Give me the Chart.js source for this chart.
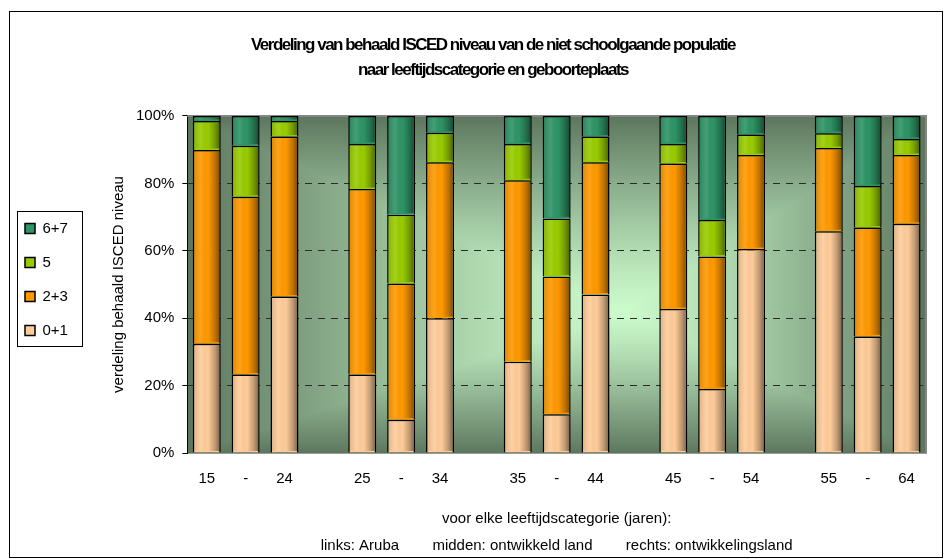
<!DOCTYPE html>
<html>
<head>
<meta charset="utf-8">
<title>ISCED niveau naar leeftijd en geboorteplaats</title>
<script src="https://cdn.jsdelivr.net/npm/chart.js@4.4.1/dist/chart.umd.min.js"></script>
<style>
  body { margin: 0; background: #fff; }
  #kader { position: absolute; left: 9px; top: 11px; width: 932px; height: 545px; border: 1px solid #000; }
  #wrap { position: absolute; left: 0; top: 0; width: 945px; height: 559px; }
</style>
</head>
<body>
<div id="kader"></div>
<div id="wrap"><canvas id="isced"></canvas></div>
<script>
// leeftijdsklassen, per klasse 3 staven: Aruba / ontwikkeld land / ontwikkelingsland
// lege labels zijn de tussenruimtes tussen de klassen
const leeftijd = ["15","-","24","", "25","-","34","", "35","-","44","", "45","-","54","", "55","-","64"];

// percentages per ISCED niveau (null = tussenruimte)
const niveau01 = [32.4, 23.3, 46.4, null, 23.3,  9.9, 40.0, null, 27.1, 11.5, 47.0, null, 42.7, 19.0, 60.5, null, 65.8, 34.6, 68.0];
const niveau23 = [57.5, 52.7, 47.5, null, 55.0, 40.4, 46.3, null, 53.8, 40.9, 39.3, null, 43.2, 39.3, 27.9, null, 24.7, 32.3, 20.4];
const niveau5  = [ 8.6, 15.2,  4.6, null, 13.4, 20.4,  8.7, null, 10.8, 17.2,  7.6, null,  5.8, 10.8,  6.1, null,  4.4, 12.3,  4.8];
const niveau67 = [ 1.5,  8.8,  1.5, null,  8.3, 29.3,  5.0, null,  8.3, 30.4,  6.1, null,  8.3, 30.9,  5.5, null,  5.1, 20.8,  6.8];

const yTicks = [0, 20, 40, 60, 80, 100];

Chart.defaults.font.family = "'Liberation Sans', Arial, sans-serif";
Chart.defaults.font.size = 15;
Chart.defaults.color = '#000';

// achtergrond van het plotvlak: licht in het midden, donker naar de randen
const achtergrond = {
  id: 'achtergrond',
  beforeDraw(chart) {
    const a = chart.chartArea, ctx = chart.ctx;
    const w = Math.round(a.right - a.left), h = Math.round(a.bottom - a.top);
    const img = ctx.createImageData(w, h);
    const cx = w * 0.59, cy = h * 0.58;
    const licht = [203, 250, 203], donker = [92, 118, 94];
    for (let y = 0; y < h; y++) {
      const ty = y < cy ? (cy - y) / cy : (y - cy) / (h - cy);
      for (let x = 0; x < w; x++) {
        const tx = x < cx ? (cx - x) / cx : (x - cx) / (w - cx);
        const t = Math.pow(Math.max(tx, ty), 1.25);
        const i = (y * w + x) * 4;
        img.data[i]     = licht[0] + (donker[0] - licht[0]) * t;
        img.data[i + 1] = licht[1] + (donker[1] - licht[1]) * t;
        img.data[i + 2] = licht[2] + (donker[2] - licht[2]) * t;
        img.data[i + 3] = 255;
      }
    }
    ctx.putImageData(img, Math.round(a.left), Math.round(a.top));
  },
  beforeDatasetsDraw(chart) {
    const a = chart.chartArea, ctx = chart.ctx;
    ctx.save();
    ctx.strokeStyle = '#858585';
    ctx.lineWidth = 2;
    ctx.beginPath();
    ctx.moveTo(a.left, a.top);
    ctx.lineTo(a.right, a.top);
    ctx.lineTo(a.right, a.bottom);
    ctx.stroke();
    ctx.restore();
  }
};

// cilinder-achtige schaduw over elke staaf + kader om de legenda
const schaduw = {
  id: 'schaduw',
  afterDatasetsDraw(chart) {
    const ctx = chart.ctx;
    ctx.save();
    chart.data.datasets.forEach((ds, i) => {
      chart.getDatasetMeta(i).data.forEach(bar => {
        const { x, y, base, width } = bar.getProps(['x', 'y', 'base', 'width'], true);
        if (isNaN(y) || isNaN(base)) return;
        const l = x - width / 2, r = x + width / 2;
        const g = ctx.createLinearGradient(l, 0, r, 0);
        g.addColorStop(0, 'rgba(0,0,0,0.15)');
        g.addColorStop(0.3, 'rgba(255,255,255,0.10)');
        g.addColorStop(0.55, 'rgba(0,0,0,0)');
        g.addColorStop(0.8, 'rgba(0,0,0,0.25)');
        g.addColorStop(1, 'rgba(0,0,0,0.55)');
        ctx.fillStyle = g;
        const top = Math.min(y, base) + 1.5, hoogte = Math.abs(base - y) - 3;
        if (hoogte > 0) ctx.fillRect(l + 1.5, top, width - 3, hoogte);
      });
    });
    ctx.restore();
  },
  afterDraw(chart) {
    const boxes = chart.legend.legendHitBoxes;
    if (!boxes || !boxes.length) return;
    const ctx = chart.ctx;
    let l = Infinity, t = Infinity, r = -Infinity, b = -Infinity;
    boxes.forEach(h => {
      l = Math.min(l, h.left); t = Math.min(t, h.top);
      r = Math.max(r, h.left + h.width); b = Math.max(b, h.top + h.height);
    });
    ctx.save();
    ctx.strokeStyle = '#000';
    ctx.lineWidth = 1;
    ctx.strokeRect(Math.round(l - 8) + 0.5, Math.round(t - 10) + 0.5, Math.round(r - l + 22), Math.round(b - t + 18));
    ctx.restore();
  }
};

// titel iets smaller zetten (krappe letterafstand) en wat naar rechts
const smalleTitel = {
  id: 'smalleTitel',
  afterInit(chart) {
    const titel = chart.titleBlock;
    const teken = titel.draw.bind(titel);
    titel.draw = function () {
      this.ctx.save();
      this.ctx.letterSpacing = '-1.5px';
      this.ctx.translate(27, 0);
      teken();
      this.ctx.restore();
    };
  }
};

const rand = '#000';
new Chart(document.getElementById('isced'), {
  type: 'bar',
  data: {
    labels: leeftijd,
    datasets: [
      { label: '0+1', data: niveau01, backgroundColor: '#ffcc99', borderColor: rand, borderWidth: 1.5 },
      { label: '2+3', data: niveau23, backgroundColor: '#ff9900', borderColor: rand, borderWidth: 1.5 },
      { label: '5',   data: niveau5,  backgroundColor: '#99cc00', borderColor: rand, borderWidth: 1.5 },
      { label: '6+7', data: niveau67, backgroundColor: '#2e9466', borderColor: rand, borderWidth: 1.5 }
    ]
  },
  options: {
    responsive: true,
    maintainAspectRatio: false,
    animation: false,
    barPercentage: 0.72,
    categoryPercentage: 1,
    layout: { padding: { left: 6, right: 19, top: 0, bottom: 0 } },
    plugins: {
      title: {
        display: true,
        text: ['Verdeling van behaald ISCED niveau van de niet schoolgaande populatie',
               'naar leeftijdscategorie en geboorteplaats'],
        font: { size: 17, weight: 'bold', lineHeight: 1.47 },
        color: '#000',
        padding: { top: 33, bottom: 33 }
      },
      legend: {
        position: 'left',
        reverse: true,
        labels: { boxWidth: 10, boxHeight: 10, padding: 19, font: { size: 15 } }
      },
      tooltip: { enabled: false }
    },
    scales: {
      x: {
        stacked: true,
        grid: { display: false, drawTicks: false },
        border: { color: '#9a9a9a', width: 1 },
        ticks: { padding: 17, autoSkip: false, maxRotation: 0 },
        title: {
          display: true,
          text: ['voor elke leeftijdscategorie (jaren):',
                 'links: Aruba        midden: ontwikkeld land        rechts: ontwikkelingsland'],
          font: { size: 15, lineHeight: 1.8 },
          padding: { top: 0, bottom: 0 }
        }
      },
      y: {
        stacked: true,
        min: 0,
        max: 100,
        afterBuildTicks: scale => { scale.ticks = yTicks.map(v => ({ value: v })); },
        ticks: { padding: 8, callback: v => v + '%' },
        grid: {
          color: c => (c.tick && (c.tick.value === 0 || c.tick.value === 100)) ? 'rgba(0,0,0,0)' : '#2a2a2a',
          tickColor: '#000',
          tickLength: 5,
          tickBorderDash: [0, 0]
        },
        border: { color: '#000', dash: [7, 6] },
        title: { display: true, text: 'verdeling behaald ISCED niveau', font: { size: 15 }, padding: { top: 32, bottom: 0 } }
      }
    }
  },
  plugins: [achtergrond, schaduw, smalleTitel]
});
</script>
</body>
</html>
